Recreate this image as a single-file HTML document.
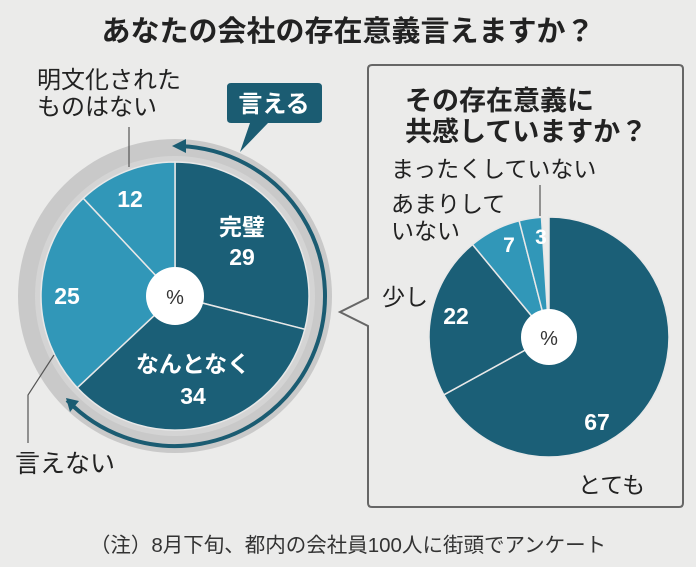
<!DOCTYPE html>
<html><head><meta charset="utf-8">
<style>
html,body{margin:0;padding:0;background:#ebebea;}
svg{display:block;}
text{font-family:"Liberation Sans","Noto Sans CJK JP",sans-serif;}
</style></head>
<body>
<svg id="s" width="696" height="567" viewBox="0 0 696 567">
<rect width="696" height="567" fill="#ebebea"/>
<text x="348" y="41" font-size="29" font-weight="bold" text-anchor="middle" fill="#222">あなたの会社の存在意義言えますか？</text>
<path d="M372,65 H679 Q683,65 683,69 V503 Q683,507 679,507 H372 Q368,507 368,503 V326 L340,312 L368,298 V69 Q368,65 372,65 Z" fill="#ebebea" stroke="#666" stroke-width="2"/>
<circle cx="175" cy="296" r="157" fill="#c9c9c9"/>
<circle cx="175" cy="296" r="140" fill="#d4d4d4"/>
<g id="lp"></g>
<g id="rp"></g>
<path id="arc" fill="none" stroke="#1b5c72" stroke-width="4"/>
<polygon points="172,146 186,139 186,153" fill="#1b5c72"/>
<polygon points="66,398 70,412 79,401" fill="#1b5c72"/>
<path d="M231,83 H318 Q322,83 322,87 V119 Q322,123 318,123 H268 L240,152 L250,123 H231 Q227,123 227,119 V87 Q227,83 231,83 Z" fill="#1b5c72"/>
<text x="274" y="112" font-size="24" font-weight="bold" fill="#fff" text-anchor="middle">言える</text>
<text x="37" y="88" font-size="24" fill="#222">明文化された</text>
<text x="37" y="115" font-size="24" fill="#222">ものはない</text>
<line x1="129" y1="127" x2="129" y2="167" stroke="#555" stroke-width="1.2"/>
<polyline points="54,355 28,395 28,443" fill="none" stroke="#555" stroke-width="1.2"/>
<text x="15" y="472" font-size="25" fill="#222">言えない</text>
<text x="130" y="207" font-size="23" font-weight="bold" fill="#fff" text-anchor="middle">12</text>
<text x="242" y="235" font-size="23" font-weight="bold" fill="#fff" text-anchor="middle">完璧</text>
<text x="242" y="265" font-size="23" font-weight="bold" fill="#fff" text-anchor="middle">29</text>
<text x="67" y="304" font-size="23" font-weight="bold" fill="#fff" text-anchor="middle">25</text>
<text x="193" y="372" font-size="23" font-weight="bold" fill="#fff" text-anchor="middle">なんとなく</text>
<text x="193" y="404" font-size="23" font-weight="bold" fill="#fff" text-anchor="middle">34</text>
<text x="175" y="304" font-size="20" fill="#333" text-anchor="middle">%</text>
<text x="405" y="110" font-size="27" font-weight="bold" fill="#222">その存在意義に</text>
<text x="405" y="141" font-size="27" font-weight="bold" fill="#222">共感していますか？</text>
<text x="391" y="177" font-size="23" fill="#222">まったくしていない</text>
<text x="391" y="212" font-size="23" fill="#222">あまりして</text>
<text x="391" y="239" font-size="23" fill="#222">いない</text>
<line x1="540" y1="185" x2="540" y2="216" stroke="#555" stroke-width="1.2"/>
<text x="382" y="305" font-size="23" fill="#222">少し</text>
<text x="578" y="493" font-size="23" fill="#222">とても</text>
<text x="541" y="244" font-size="21" font-weight="bold" fill="#fff" text-anchor="middle">3</text>
<text x="509" y="252" font-size="21" font-weight="bold" fill="#fff" text-anchor="middle">7</text>
<text x="456" y="324" font-size="23" font-weight="bold" fill="#fff" text-anchor="middle">22</text>
<text x="597" y="430" font-size="23" font-weight="bold" fill="#fff" text-anchor="middle">67</text>
<text x="549" y="345" font-size="20" fill="#333" text-anchor="middle">%</text>
<text x="348" y="552" font-size="20.5" fill="#333" text-anchor="middle">（注）8月下旬、都内の会社員100人に街頭でアンケート</text>
</svg>
<script>
var NS="http://www.w3.org/2000/svg";
function pie(g,cx,cy,r,hr,vals,cols){
 var a=0,G=document.getElementById(g);
 function pt(t,rr){var th=t/100*2*Math.PI;return [cx+rr*Math.sin(th),cy-rr*Math.cos(th)];}
 vals.forEach(function(v,i){
  var p0=pt(a,r),p1=pt(a+v,r);
  var d="M"+cx+","+cy+" L"+p0+" A"+r+","+r+" 0 "+(v>50?1:0)+" 1 "+p1+" Z";
  var e=document.createElementNS(NS,"path");e.setAttribute("d",d);e.setAttribute("fill",cols[i]);
  e.setAttribute("stroke","#e8e8e8");e.setAttribute("stroke-width","1.5");G.appendChild(e);a+=v;});
 var c=document.createElementNS(NS,"circle");c.setAttribute("cx",cx);c.setAttribute("cy",cy);c.setAttribute("r",hr);c.setAttribute("fill","#fff");G.appendChild(c);
}
var D="#1b5f77",L="#3197b8";
pie("lp",175,296,134,29,[29,34,25,12],[D,D,L,L]);
pie("rp",549,337,120,28,[67,22,7,3],[D,D,L,L]);
(function(){var cx=175,cy=296,r=150;function pt(deg){var t=deg*Math.PI/180;return [cx+r*Math.sin(t),cy-r*Math.cos(t)];}
var p0=pt(2),p1=pt(226);document.getElementById("arc").setAttribute("d","M"+p0+" A"+r+","+r+" 0 1 1 "+p1);})();
</script>
</body></html>
